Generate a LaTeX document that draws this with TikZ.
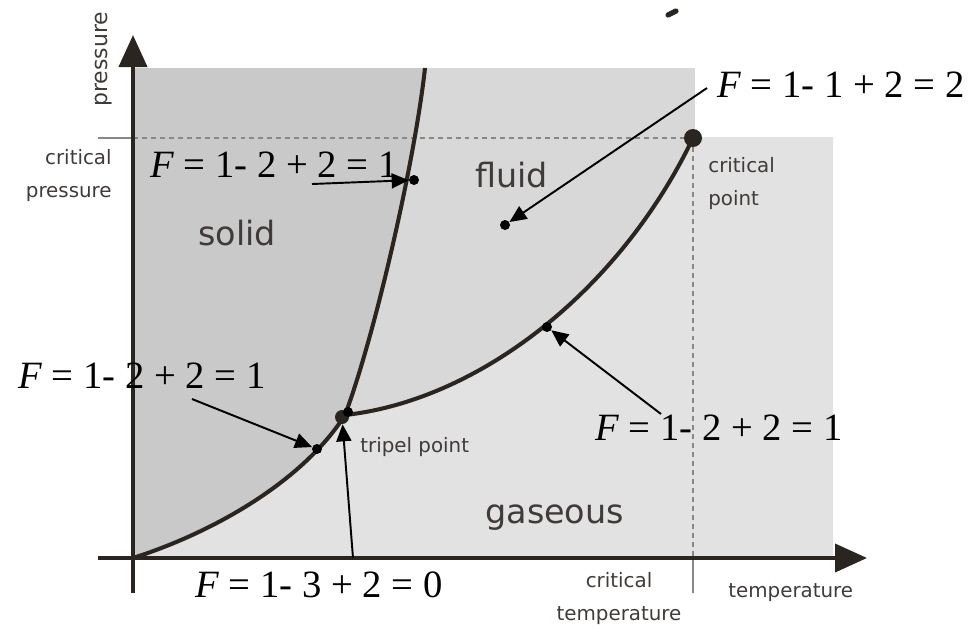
\documentclass[tikz,border=0pt]{standalone}
\usepackage{fontspec}
\setmainfont{Liberation Serif}
\setsansfont{DejaVu Sans}
\usetikzlibrary{arrows.meta}
\definecolor{csolido}{HTML}{C9C9C9}
\definecolor{cfluido}{HTML}{D8D8D8}
\definecolor{cgas}{HTML}{E2E2E2}
\definecolor{clinea}{HTML}{2B2520}
\definecolor{cguion}{HTML}{8A8785}
\definecolor{ctexto}{HTML}{403B38}
\tikzset{
  eje/.style={line width=2.3pt, draw=clinea, -{Triangle[length=0.64cm,width=0.56cm]}},
  curva/.style={line width=2.3pt, draw=clinea},
  guion/.style={line width=0.75pt, draw=cguion, dash pattern=on 2.8pt off 2.3pt},
  marca/.style={line width=0.75pt, draw=cguion},
  punto/.style={circle, fill=black, inner sep=0pt, minimum size=0.2cm},
  flecha/.style={-{Triangle[length=0.34cm,width=0.3cm]}, line width=1.1pt},
  ecu/.style={inner sep=0pt, anchor=base west, font=\fontsize{22}{26}\selectfont},
  fase/.style={inner sep=0pt, anchor=base west, text=ctexto, font=\sffamily\fontsize{19}{23}\selectfont},
  etq/.style={inner sep=0pt, text=ctexto, font=\sffamily\fontsize{11.3}{18.5}\selectfont},
}
\begin{document}
\begin{tikzpicture}[x=0.02cm, y=-0.02cm]
  \useasboundingbox (0,0) rectangle (970,627);
  \coordinate (o) at (133,558);
  \coordinate (tp) at (345,415);
  \coordinate (top) at (425,68);
  % regiones
  \fill[cfluido] (133,68) rectangle (695,558);
  \fill[cgas] (o) .. controls (220,530) and (305,478) .. (tp)
    .. controls (480,400) and (620,290) .. (693,138)
    -- (693,137) -- (833,137) -- (833,558) -- cycle;
  \fill[csolido] (top) -- (133,68) -- (o) .. controls (220,530) and (305,478) .. (tp)
    .. controls (375,335) and (415,160) .. (top) -- cycle;
  % lineas criticas
  \node[circle, fill=clinea, inner sep=0pt, minimum size=0.36cm] (pc) at (693,138) {};
  \draw[marca] (98,138) -- (133,138);
  \draw[guion] (133,138) -- (pc);
  \draw[guion] (pc) -- (693,558);
  \draw[marca] (693,558) -- (693,593);
  % curvas
  \draw[curva] (o) .. controls (220,530) and (305,478) .. (tp);
  \draw[curva] (tp) .. controls (375,335) and (415,160) .. (top);
  \draw[curva] (tp) .. controls (480,400) and (620,290) .. (pc.center);
  % ejes
  \draw[eje] (133,593) -- (133,35);
  \draw[eje] (98,558) -- (867,558);
  \draw[clinea, line width=3pt, line cap=round] (668,15) -- (676,11);
  % puntos
  \node[circle, fill=clinea, inner sep=0pt, minimum size=0.28cm] (pt) at (342,417) {};
  \node[punto] (p1) at (414,180) {};
  \node[punto] (p2) at (505,225) {};
  \node[punto] (p3) at (317,449) {};
  \node[punto] (p4) at (348,412) {};
  \node[punto] (p5) at (547,327) {};
  % textos
  \node[fase] (sol) at (198,245) {solid};
  \node[fase] (flu) at (475,187) {fluid};
  \node[fase] (gas) at (485,523) {gaseous};
  \node[etq, align=right, anchor=base east] (cpre) at (112,197) {critical\\pressure};
  \node[etq, align=left, anchor=base west] (cpun) at (708,205) {critical\\point};
  \node[etq, anchor=base west] (tri) at (360,452) {tripel point};
  \node[etq, align=center, anchor=base] (ctem) at (619,620) {critical\\temperature};
  \node[etq, anchor=base west] (tem) at (728,597) {temperature};
  \node[etq, rotate=90, anchor=base west, font=\sffamily\fontsize{12.5}{15}\selectfont] (pre) at (107,107) {pressure};
  % ecuaciones
  \node[ecu] (e1) at (150,177) {\textit{F} = 1- 2 + 2 = 1};
  \node[ecu] (e2) at (717,97) {\textit{F} = 1- 1 + 2 = 2};
  \node[ecu] (e3) at (18,388) {\textit{F} = 1- 2 + 2 = 1};
  \node[ecu] (e4) at (195,597) {\textit{F} = 1- 3 + 2 = 0};
  \node[ecu] (e5) at (595,440) {\textit{F} = 1- 2 + 2 = 1};
  \coordinate (c1) at (312,184);
  \coordinate (c2) at (707,88);
  \coordinate (c3) at (192,399);
  \coordinate (c4) at (353,558);
  \coordinate (c5) at (661,414);
  \draw[flecha] (c1) -- (p1);
  \draw[flecha] (c2) -- (p2);
  \draw[flecha] (c3) -- (p3);
  \draw[flecha] (c4) -- (pt);
  \draw[flecha] (c5) -- (p5);
\end{tikzpicture}
\end{document}
